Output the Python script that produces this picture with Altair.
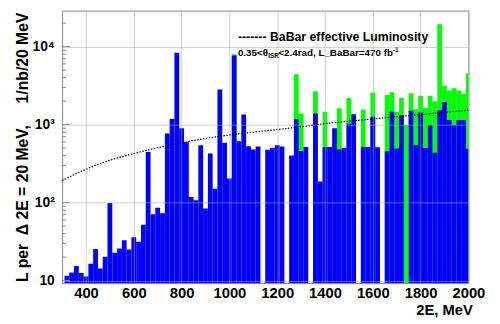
import altair as alt
import pandas as pd

# 20 MeV bins, lower edges (MeV)
bin_lo = [310 + 20 * k for k in range(85)]

blue = [11.5, 12.7, 15.4, 12.5, 11.3, 16.5, 25.5, 14.3, 20.2, 99,
        22.8, 25.8, 32.8, 25, 36, 31.6, 52, 444, 71, 86,
        73, 771, 1180, 8330, 898, 598, 118, 107, 543, 84,
        427, 150, 2820, 587, 204, 7710, 611, 1350, 527, 478,
        523, None, 475, 503, 543, 523, None, 403, 1179, 460,
        518, None, 1390, 187, 518, 518, 899, 480, 503, 1030,
        1363, None, 518, 518, 1262, 513, None, 457, 1459, 493,
        1324, None, 1502, 543, 1430, 503, 990, 435, 1531, 1950,
        1146, 990, 1146, 1146, 489]

green = [None, None, None, None, None, None, None, None, None, None,
         None, None, None, None, None, None, None, None, None, None,
         None, None, None, None, None, None, None, None, None, None,
         None, None, None, None, None, 8000, None, None, None, None,
         None, None, None, None, None, None, None, None, 4440, 1390,
         None, None, 2685, None, 1459, None, None, 1620, None, 2188,
         None, None, 1561, None, 2582, None, None, 2400, 2607, 1459,
         2188, 990, 2533, 1576, 2344, 1637, 2344, 1989, 19300, 3165,
         2737, 2928, 2737, 2483, 4525]

lum_E = [300, 400, 500, 600, 700, 800, 900, 1000, 1100, 1200,
         1300, 1400, 1500, 1600, 1700, 1800, 1900, 2000]
lum_val = [191, 268, 349, 425, 505, 585, 665, 735, 800, 865,
           940, 1030, 1105, 1185, 1265, 1345, 1440, 1530]

x_ticks = [400, 600, 800, 1000, 1200, 1400, 1600, 1800, 2000]
y_major = [10, 100, 1000, 10000]
y_minor = [20, 30, 40, 50, 60, 70, 80, 90,
           200, 300, 400, 500, 600, 700, 800, 900,
           2000, 3000, 4000, 5000, 6000, 7000, 8000, 9000, 20000]

W, H = 413, 277
FONT = "Liberation Sans"
NB = "\u00a0"
Y_TITLE = "L per" + NB * 2 + "\u0394 2E = 20 MeV," + NB * 5 + "1/nb/20 MeV"

hist = pd.DataFrame({"lo": bin_lo, "hi": [b + 20 for b in bin_lo],
                     "blue": blue, "green": green})
lum = pd.DataFrame({"E": lum_E, "L": lum_val})

xs = alt.Scale(domain=[300, 2000], nice=False, zero=False)
ys = alt.Scale(type="log", domain=[9.3, 29000], nice=False)

x_axis = alt.Axis(values=x_ticks, format="d", labelOverlap=False,
                  labelFlush=False, title="2E, MeV", ticks=False, domain=False,
                  labelFont=FONT, labelFontWeight="bold", labelFontSize=15,
                  labelColor="black", labelPadding=3,
                  grid=True, gridColor="#aaaaaa", gridOpacity=0.55,
                  titleFont=FONT, titleFontWeight="bold", titleFontSize=15,
                  titleColor="black", titleX=417, titleY=27,
                  titleAlign="right", titleBaseline="middle", zindex=1)
y_axis = alt.Axis(values=y_major, title=Y_TITLE, labelOverlap=False,
                  labelFlush=False, ticks=False, domain=False,
                  labelExpr="datum.value == 10 ? '10' : datum.value == 100 ? '10\u00b2' : datum.value == 1000 ? '10\u00b3' : '10\u2074'",
                  labelFont=FONT, labelFontWeight="bold", labelFontSize=14,
                  labelColor="black", labelPadding=8,
                  grid=True, gridColor="#aaaaaa", gridOpacity=0.55,
                  titleFont=FONT, titleFontWeight="bold", titleFontSize=16,
                  titleColor="black", titleX=-40, titleY=H / 2,
                  titleAngle=270, titleAlign="center", titleBaseline="middle",
                  zindex=1)

green_layer = alt.Chart(hist).transform_filter("datum.green != null").mark_rect(
    color="#00ff00", clip=True).encode(
    x=alt.X("lo:Q", scale=xs, axis=x_axis),
    x2="hi:Q",
    y=alt.Y("green:Q", scale=ys, axis=y_axis),
    y2=alt.value(H))

blue_layer = alt.Chart(hist).transform_filter("datum.blue != null").mark_rect(
    color="#0000ff", clip=True).encode(
    x=alt.X("lo:Q", scale=xs, axis=x_axis),
    x2="hi:Q",
    y=alt.Y("blue:Q", scale=ys, axis=y_axis),
    y2=alt.value(H))

lum_layer = alt.Chart(lum).mark_line(color="black", strokeDash=[1.5, 1.5],
                                     strokeWidth=1.2, interpolate="monotone",
                                     clip=True).encode(
    x=alt.X("E:Q", scale=xs, axis=x_axis),
    y=alt.Y("L:Q", scale=ys, axis=y_axis))

tmaj = alt.Chart(pd.DataFrame({"v": y_major})).mark_rule(color="#888888").encode(
    x=alt.value(0), x2=alt.value(8), y=alt.Y("v:Q", scale=ys, axis=y_axis))
tmin = alt.Chart(pd.DataFrame({"v": y_minor})).mark_rule(color="#888888").encode(
    x=alt.value(0), x2=alt.value(4), y=alt.Y("v:Q", scale=ys, axis=y_axis))


def label(txt, x, y, size):
    return alt.Chart(pd.DataFrame({"t": [txt]})).mark_text(
        align="left", baseline="middle", font=FONT, fontWeight="bold",
        fontSize=size, color="black").encode(
        text="t:N", x=alt.value(x), y=alt.value(y))


texts = [
    label("------- BaBar effective Luminosity", 178.7, 26.5, 12.5),
    label("0.35<\u03b8", 178.7, 43.5, 10),
    label("ISR", 209.6, 46.5, 6.5),
    label("<2.4rad, L_BaBar=470 fb", 219.7, 43.5, 10),
    label("-1", 336.3, 40.5, 6.5),
]

chart = alt.layer(green_layer, blue_layer, lum_layer, tmaj, tmin, *texts).properties(
    width=W, height=H,
    padding={"left": 55, "top": 0, "right": 24, "bottom": 38},
    autosize=alt.AutoSizeParams(type="none"),
).configure_view(stroke="#888888", strokeWidth=1)

chart.save("out.html", embed_options={"renderer": "svg", "actions": False})
